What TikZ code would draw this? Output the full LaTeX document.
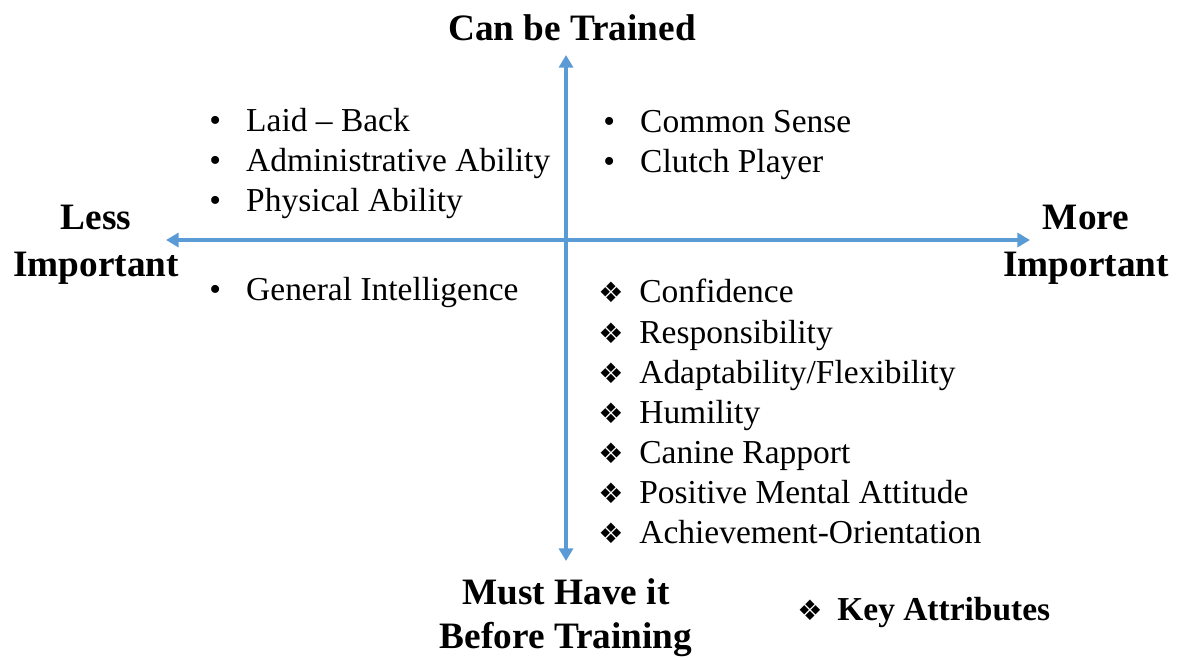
\documentclass[tikz,border=0pt]{standalone}
\usepackage{fontspec}
\setmainfont{Liberation Serif}
\newfontfamily\symfont{DejaVu Sans}
\definecolor{axisblue}{RGB}{91,155,213}
\usetikzlibrary{arrows.meta}

\begin{document}
\begin{tikzpicture}[x=0.025cm, y=-0.025cm,
    axis/.style={line width=2.2pt, draw=axisblue,
      {Triangle[length=9pt,width=10pt]}-{Triangle[length=9pt,width=10pt]}},
    heading/.style={font=\fontsize{26.5}{33.4}\selectfont\bfseries, align=center, inner sep=0pt},
    item/.style={font=\fontsize{23.8}{28}\selectfont, anchor=base west, inner sep=0pt}
  ]
    \useasboundingbox (0,0) rectangle (1177,659);
    % Axis ends
    \coordinate (top) at (566,55);
    \coordinate (bottom) at (566,561);
    \coordinate (left) at (166,240);
    \coordinate (right) at (1030,240);
    \draw[axis] (left) -- (right);
    \draw[axis] (bottom) -- (top);
    % Axis labels
    \node[heading] (trained) at (572,28) {Can be Trained};
    \node[heading] (less) at (96,245) {Less\\Important};
    \node[heading] (more) at (1086,245) {More\\Important};
    \node[heading, font=\fontsize{26.5}{31.5}\selectfont\bfseries] (before) at (566,618)
      {Must Have it\\Before Training};
    % Quadrant items
    \foreach \txt [count=\i] in {Laid – Back, Administrative Ability, Physical Ability}
      \node[item] (tl\i) at (209,91+40*\i) {\makebox[26.3pt][l]{•}\txt};
    \foreach \txt [count=\i] in {Common Sense, Clutch Player}
      \node[item] (tr\i) at (603,92+40*\i) {\makebox[26.3pt][l]{•}\txt};
    \node[item] (bl1) at (209,300) {\makebox[26.3pt][l]{•}General Intelligence};
    \foreach \txt [count=\i] in {Confidence, Responsibility, Adaptability/Flexibility, Humility,
        Canine Rapport, Positive Mental Attitude, Achievement-Orientation}
      \node[item] (br\i) at (598,262.8+40.17*\i) {\makebox[29.2pt][l]{\symfont\fontsize{20}{24}\selectfont ❖}\txt};
    % Legend
    \node[item, font=\fontsize{23.8}{28}\selectfont\bfseries] (key) at (797,620)
      {\makebox[28.5pt][l]{\symfont\mdseries\fontsize{20}{24}\selectfont ❖}Key Attributes};
\end{tikzpicture}
\end{document}
